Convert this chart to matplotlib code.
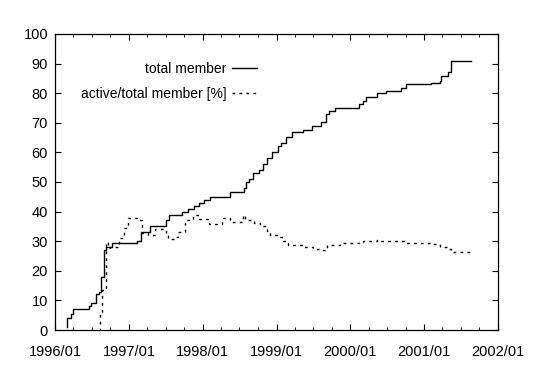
import pandas as pd
import matplotlib
matplotlib.use("Agg")
import matplotlib.pyplot as plt
import matplotlib.dates as mdates

plt.rcParams['font.family'] = ['Liberation Sans', 'DejaVu Sans']

# total members (step series)
total_dates = ["1996-02-28", "1996-03-01", "1996-03-20", "1996-04-01", "1996-06-15",
               "1996-06-25", "1996-07-20", "1996-08-05", "1996-08-15", "1996-08-28",
               "1996-09-10", "1996-10-08", "1997-02-10", "1997-03-03", "1997-04-15",
               "1997-07-01", "1997-07-20", "1997-09-20", "1997-10-20", "1997-11-18",
               "1997-12-15", "1998-01-08", "1998-02-06", "1998-05-15", "1998-07-25",
               "1998-08-05", "1998-08-18", "1998-09-05", "1998-10-05", "1998-10-28",
               "1998-11-15", "1998-12-10", "1999-01-10", "1999-01-25", "1999-02-15",
               "1999-03-18", "1999-05-10", "1999-06-25", "1999-08-10", "1999-09-05",
               "1999-09-20", "1999-10-15", "2000-02-15", "2000-03-05", "2000-03-20",
               "2000-05-10", "2000-06-28", "2000-09-10", "2000-10-05", "2001-02-05",
               "2001-03-18", "2001-03-25", "2001-05-01", "2001-05-15", "2001-08-22"]
total_vals = [1, 4, 5.5, 7, 8,
              9, 12, 13, 18, 27,
              28, 29.5, 30, 33, 35,
              37, 39, 40, 41, 42,
              43, 44, 45, 46.5, 48,
              50, 51, 53, 54, 56,
              58, 60, 62, 63.3, 65.3,
              67, 67.6, 68.9, 70.2, 73,
              74, 75, 76.2, 77.5, 78.8,
              80, 80.7, 81.6, 83, 83.6,
              84.1, 85.9, 87, 91, 91]

# active / total members in percent
active_dates = ["1996-08-08", "1996-08-10", "1996-08-22", "1996-09-10", "1996-09-20",
                "1996-10-01", "1996-11-12", "1996-12-05", "1996-12-28", "1997-02-10",
                "1997-03-08", "1997-04-05", "1997-05-08", "1997-07-01", "1997-07-15",
                "1997-08-10", "1997-09-01", "1997-10-05", "1997-11-15", "1997-12-15",
                "1998-01-30", "1998-04-05", "1998-05-15", "1998-07-20", "1998-07-28",
                "1998-09-10", "1998-10-12", "1998-11-15", "1998-12-01", "1999-01-10",
                "1999-02-01", "1999-03-01", "1999-05-10", "1999-06-30", "1999-08-10",
                "1999-09-10", "1999-11-10", "2000-02-15", "2000-03-05", "2000-04-05",
                "2000-05-10", "2000-05-25", "2000-10-05", "2001-02-15", "2001-03-18",
                "2001-05-01", "2001-05-15", "2001-08-15"]
active_vals = [0, 6, 13.5, 29.6, 27.6,
               28, 31, 34.3, 37.7, 37,
               32.9, 32, 34.1, 32.5, 30.6,
               31.5, 33, 37, 38.9, 37.5,
               35.8, 37.7, 36.6, 39, 37,
               36, 35, 33, 32, 31.5,
               30, 28.7, 28.1, 27.4, 27,
               28.7, 29.3, 29.6, 30.2, 30,
               30.5, 30.1, 29.3, 29, 28.1,
               27.5, 26.5, 26.5]

fig = plt.figure(figsize=(5.42, 3.84), dpi=100)
ax = fig.add_axes([0.1015, 0.1406, 0.8173, 0.7709])

ax.plot(pd.to_datetime(total_dates), total_vals, drawstyle='steps-post',
        color='black', lw=1.0, label='total member')
ax.plot(pd.to_datetime(active_dates), active_vals, drawstyle='steps-post',
        color='black', lw=1.0, linestyle=(0, (2, 3)), label='active/total member [%]')

ax.set_xlim(pd.Timestamp("1996-01-01"), pd.Timestamp("2002-01-01"))
ax.set_ylim(0, 100)
ax.set_yticks(range(0, 101, 10))
ax.xaxis.set_major_locator(mdates.YearLocator())
ax.xaxis.set_minor_locator(mdates.MonthLocator(bymonth=[4, 7, 10]))
ax.xaxis.set_major_formatter(mdates.DateFormatter('%Y/%m'))
ax.tick_params(which='both', direction='in', top=True, right=True, labelsize=10.5)
ax.tick_params(axis='x', which='major', pad=11)
ax.tick_params(axis='y', which='major', pad=5)
ax.tick_params(which='major', length=4.5, width=0.8)
ax.tick_params(which='minor', length=2.5, width=0.6)
for s in ax.spines.values():
    s.set_linewidth(0.9)

ax.legend(loc='upper right', bbox_to_anchor=(0.456, 0.905), frameon=False,
          markerfirst=False, fontsize=10, borderpad=0, borderaxespad=0,
          handlelength=1.8, handletextpad=0.4, labelspacing=0.8)

fig.savefig("out.png", dpi=100)
